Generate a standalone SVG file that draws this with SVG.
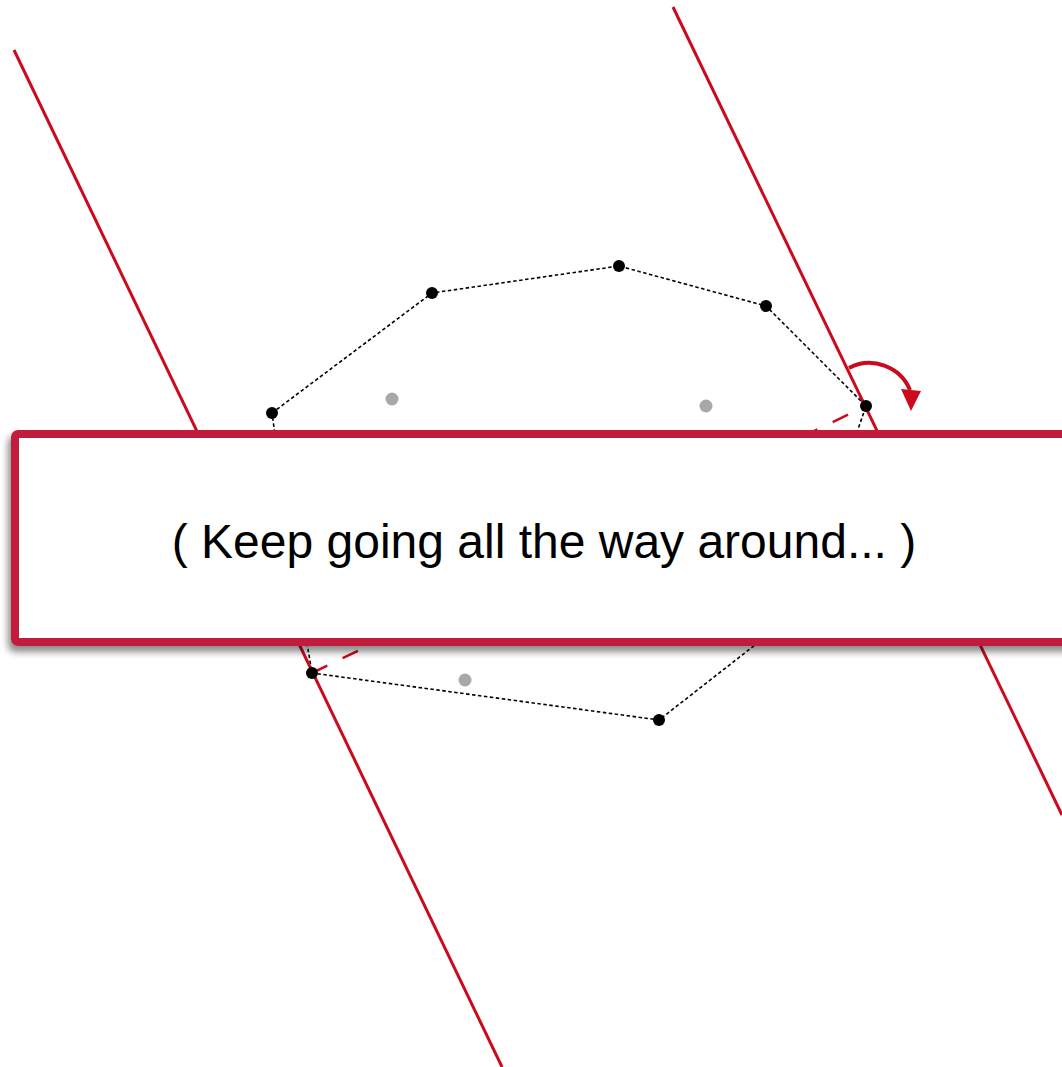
<svg xmlns="http://www.w3.org/2000/svg" width="1062" height="1067" viewBox="0 0 1062 1067">
<defs>
<style>
.caliper{stroke:#CC0A1E;stroke-width:3;fill:none}
.hull{stroke:#000;stroke-width:1.6;stroke-dasharray:3.5,2.5;fill:none}
.pt{fill:#000}
.gpt{fill:#A8A8A8}
.lbl{font-family:"Liberation Sans",Arial,sans-serif;font-size:48px;fill:#000}
</style>
<filter id="sh" x="-10%" y="-20%" width="130%" height="150%">
<feDropShadow dx="-3" dy="6" stdDeviation="3.5" flood-color="#000" flood-opacity="0.45"/>
</filter>
</defs>
<rect width="1062" height="1067" fill="#fff"/>
<g id="connectors">
<polygon class="hull" points="272,413 432,293 619,266 766,306 866,406 794,615 755,645 659,720 312,673 288,530"/>
<line class="caliper" x1="14" y1="50" x2="502" y2="1067"/>
<line class="caliper" x1="673" y1="7" x2="1062" y2="815"/>
<line x1="312" y1="673" x2="866" y2="406" stroke="#CC0A1E" stroke-width="2.5" stroke-dasharray="17,17"/>
<path d="M849,368 A44,44 0 0 1 910,390" stroke="#CC0A1E" stroke-width="4" fill="none"/>
<polygon points="911,411 901,389 921,391" fill="#CC0A1E"/>
</g>
<g id="points">
<circle class="pt" cx="272" cy="413" r="6"/>
<circle class="pt" cx="432" cy="293" r="6"/>
<circle class="pt" cx="619" cy="266" r="6"/>
<circle class="pt" cx="766" cy="306" r="6"/>
<circle class="pt" cx="866" cy="406" r="6"/>
<circle class="pt" cx="312" cy="673" r="6"/>
<circle class="pt" cx="659" cy="720" r="6"/>
<circle class="gpt" cx="392" cy="399" r="6.5"/>
<circle class="gpt" cx="706" cy="406" r="6.5"/>
<circle class="gpt" cx="465" cy="680" r="6.5"/>
</g>
<g id="banner">
<rect x="15" y="434" width="1080" height="208" rx="3" fill="#fff" stroke="#C21E3E" stroke-width="8" filter="url(#sh)"/>
<text class="lbl" x="544" y="558" text-anchor="middle">( Keep going all the way around... )</text>
</g>
</svg>
